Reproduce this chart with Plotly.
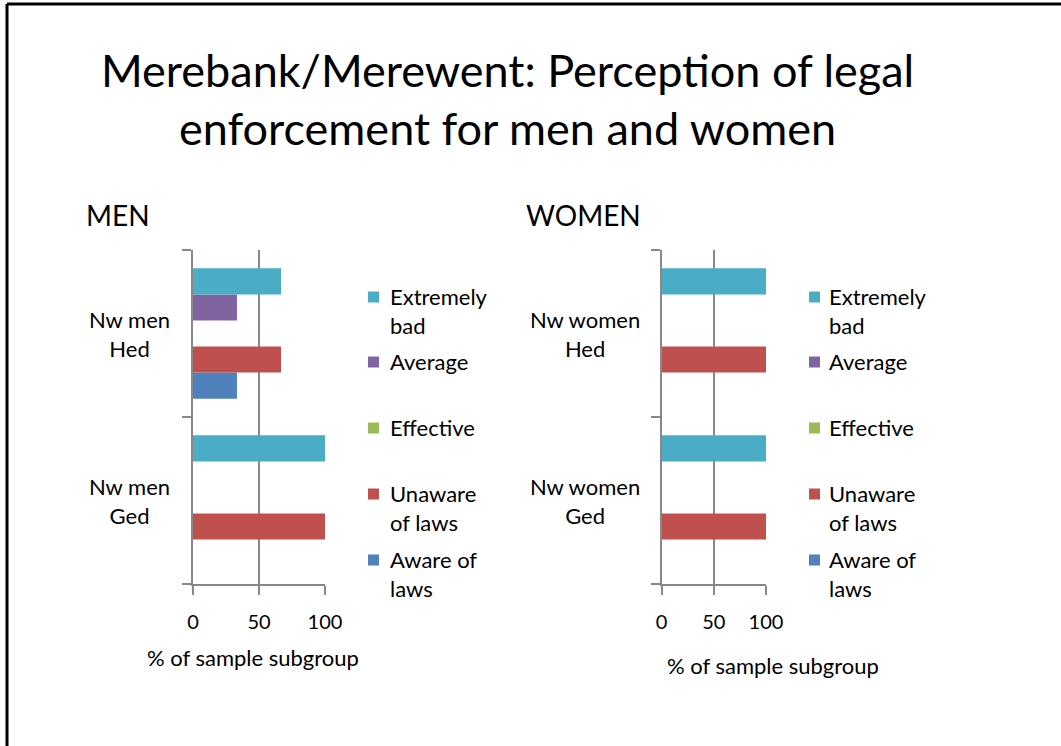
import plotly.graph_objects as go

# ---- data ----
series_names = ["Aware of laws", "Unaware of laws", "Effective", "Average", "Extremely bad"]
series_labels = ["Aware of<br>laws", "Unaware<br>of laws", "Effective", "Average", "Extremely<br>bad"]
series_colors = ["#4F81BD", "#C0504D", "#9BBB59", "#8064A2", "#4BACC6"]

men_categories = ["Nw men Ged", "Nw men Hed"]          # bottom -> top
men_labels = ["Nw men<br>Ged", "Nw men<br>Hed"]
men_values = {
    "Aware of laws":   [0, 33.3],
    "Unaware of laws": [100, 66.7],
    "Effective":       [0, 0],
    "Average":         [0, 33.3],
    "Extremely bad":   [100, 66.7],
}

women_categories = ["Nw women Ged", "Nw women Hed"]
women_labels = ["Nw women<br>Ged", "Nw women<br>Hed"]
women_values = {
    "Aware of laws":   [0, 0],
    "Unaware of laws": [100, 100],
    "Effective":       [0, 0],
    "Average":         [0, 0],
    "Extremely bad":   [100, 100],
}

x_ticks = [0, 50, 100]
title_line1 = "Merebank/Merewent: Perception of legal"
title_line2 = "enforcement for men and women"
x_title = "% of sample subgroup"

# ---- layout helpers (pixel -> paper) ----
W, H = 1061, 746
FONT = "Lato, Carlito, sans-serif"
GRID = "#888888"


def px(x):
    return x / W


def py(y):
    return 1 - y / H


fig = go.Figure()

for name, color in zip(series_names, series_colors):
    fig.add_trace(go.Bar(
        y=men_categories, x=men_values[name], orientation="h", name=name,
        marker=dict(color=color, line=dict(width=0)), xaxis="x", yaxis="y",
        showlegend=False,
    ))
for name, color in zip(series_names, series_colors):
    fig.add_trace(go.Bar(
        y=women_categories, x=women_values[name], orientation="h", name=name,
        marker=dict(color=color, line=dict(width=0)), xaxis="x2", yaxis="y2",
        showlegend=False,
    ))

y_dom = [py(584), py(250)]

xaxis_common = dict(
    range=[0, 100], tickvals=x_ticks, showgrid=True, gridcolor=GRID, gridwidth=2,
    showline=True, linecolor=GRID, linewidth=2, ticks="outside", ticklen=9,
    tickcolor=GRID, tickwidth=2, zeroline=False, fixedrange=True, automargin=False,
    tickfont=dict(family=FONT, size=20, color="#000"), ticklabelstandoff=10,
)
yaxis_common = dict(
    showline=True, linecolor=GRID, linewidth=2, ticks="outside", ticklen=9,
    tickcolor=GRID, tickwidth=2, tickson="boundaries", showticklabels=False,
    showgrid=False, zeroline=False, type="category", domain=y_dom, automargin=False,
    fixedrange=True,
)

fig.update_layout(
    template="none",
    width=W, height=H, margin=dict(l=0, r=0, t=0, b=0, pad=0, autoexpand=False),
    paper_bgcolor="white", plot_bgcolor="white",
    barmode="group", bargap=0.22, bargroupgap=0,
    xaxis=dict(domain=[px(193), px(325)], anchor="y", **xaxis_common),
    yaxis=dict(anchor="x", categoryorder="array", categoryarray=men_categories, **yaxis_common),
    xaxis2=dict(domain=[px(661.5), px(766)], anchor="y2", **xaxis_common),
    yaxis2=dict(anchor="x2", categoryorder="array", categoryarray=women_categories, **yaxis_common),
    showlegend=False,
)

annotations = []
shapes = []

# title (two centred lines)
for txt, yy in [(title_line1, 70), (title_line2, 128)]:
    annotations.append(dict(text=txt, x=px(507), y=py(yy), xref="paper", yref="paper",
                            xanchor="center", yanchor="middle", showarrow=False,
                            font=dict(family=FONT, size=45, color="#000")))

# panel headings
annotations.append(dict(text="MEN", x=px(84), y=py(215), xref="paper", yref="paper",
                        xanchor="left", yanchor="middle", showarrow=False,
                        font=dict(family=FONT, size=28, color="#000")))
annotations.append(dict(text="WOMEN", x=px(524), y=py(215), xref="paper", yref="paper",
                        xanchor="left", yanchor="middle", showarrow=False,
                        font=dict(family=FONT, size=28, color="#000")))

# category labels (centered, placed on the category axis)
for cat, lab in zip(men_categories, men_labels):
    annotations.append(dict(text=lab, x=px(129), y=cat, xref="paper", yref="y",
                            xanchor="center", yanchor="middle", align="center", showarrow=False,
                            font=dict(family=FONT, size=22, color="#000")))
for cat, lab in zip(women_categories, women_labels):
    annotations.append(dict(text=lab, x=px(585), y=cat, xref="paper", yref="y2",
                            xanchor="center", yanchor="middle", align="center", showarrow=False,
                            font=dict(family=FONT, size=22, color="#000")))

# axis titles
annotations.append(dict(text=x_title, x=px(253), y=py(657), xref="paper", yref="paper",
                        xanchor="center", yanchor="middle", showarrow=False,
                        font=dict(family=FONT, size=22, color="#000")))
annotations.append(dict(text=x_title, x=px(773), y=py(665), xref="paper", yref="paper",
                        xanchor="center", yanchor="middle", showarrow=False,
                        font=dict(family=FONT, size=22, color="#000")))

# legends (top -> bottom: reversed series order)
legend_rows = [297, 362, 428, 494, 560]
for (mx, tx) in [(368, 388), (809, 827)]:
    for row_y, idx in zip(legend_rows, range(len(series_names) - 1, -1, -1)):
        shapes.append(dict(type="rect", xref="paper", yref="paper",
                           x0=px(mx), x1=px(mx + 11), y0=py(row_y + 5.5), y1=py(row_y - 5.5),
                           fillcolor=series_colors[idx], line=dict(width=0)))
        annotations.append(dict(text=series_labels[idx], x=px(tx), y=py(row_y - 16),
                                xref="paper", yref="paper", xanchor="left", yanchor="top",
                                align="left", showarrow=False,
                                font=dict(family=FONT, size=22, color="#000")))

# slide frame (left and top edges)
shapes.append(dict(type="line", xref="paper", yref="paper", x0=px(7), x1=px(7), y0=0, y1=py(4),
                   line=dict(color="black", width=3)))
shapes.append(dict(type="line", xref="paper", yref="paper", x0=px(7), x1=1, y0=py(4), y1=py(4),
                   line=dict(color="black", width=3)))

fig.update_layout(annotations=annotations, shapes=shapes)

fig.write_html("out.html", config={"displayModeBar": False},
               post_script="document.body.style.margin='0';")
